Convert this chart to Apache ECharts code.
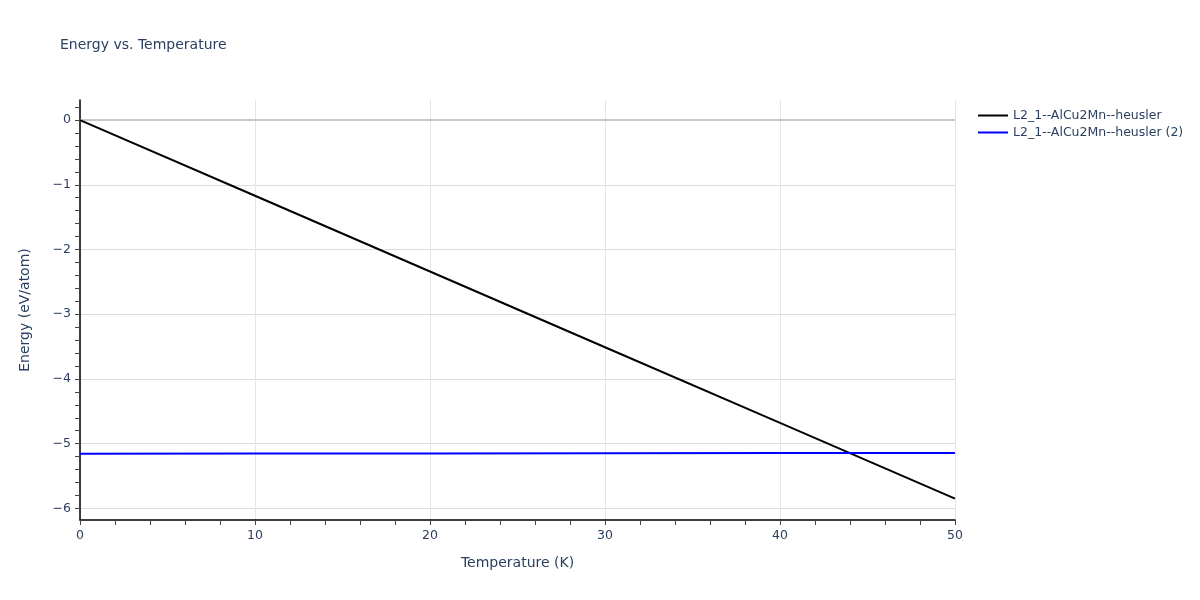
<!DOCTYPE html>
<html lang="en">

<head>
    <meta charset="UTF-8">
    <title>Energy vs. Temperature</title>
    <script src="https://cdn.jsdelivr.net/npm/echarts@6/dist/echarts.min.js"></script>
    <style>
        * {
            margin: 0;
            padding: 0;
        }

        #chart {
            width: 1200px;
            height: 600px;
        }
    </style>
</head>

<body>
    <div id="chart"></div>
    <script>
        // data
        const temperatures = [0, 10, 20, 30, 40, 50]
        const energyA = [0, -1.17, -2.34, -3.51, -4.68, -5.85]
        const energyB = [-5.155, -5.153, -5.151, -5.148, -5.145, -5.143]
        const seriesNames = ['L2_1--AlCu2Mn--heusler', 'L2_1--AlCu2Mn--heusler (2)']
        const yLabels = [-6, -5, -4, -3, -2, -1, 0]
        const yMinor = [-6, -5.8, -5.6, -5.4, -5.2, -5, -4.8, -4.6, -4.4, -4.2, -4, -3.8, -3.6, -3.4, -3.2,
            -3, -2.8, -2.6, -2.4, -2.2, -2, -1.8, -1.6, -1.4, -1.2, -1, -0.8, -0.6, -0.4, -0.2, 0, 0.2]

        const txt = '#2a3f5f'
        const font = '"DejaVu Sans", Verdana, sans-serif'
        const yMin = -6.18
        const yMax = 0.31

        const chart = echarts.init(document.querySelector('#chart'))

        const option = {
            animation: false,
            backgroundColor: '#fff',
            textStyle: { fontFamily: font },
            title: {
                text: 'Energy vs. Temperature',
                left: 55,
                top: 33,
                textStyle: { color: txt, fontSize: 14, fontWeight: 'normal', fontFamily: font }
            },
            legend: {
                orient: 'vertical',
                left: 973,
                top: 104,
                itemWidth: 30,
                itemHeight: 2,
                itemGap: 4,
                icon: 'rect',
                data: seriesNames,
                textStyle: { color: txt, fontSize: 12.5, fontFamily: font }
            },
            grid: {
                left: 80,
                right: 245,
                top: 100,
                bottom: 80
            },
            xAxis: {
                type: 'value',
                min: 0,
                max: 50,
                interval: 10,
                name: 'Temperature (K)',
                nameLocation: 'middle',
                nameGap: 36,
                nameTextStyle: { color: txt, fontSize: 14, fontFamily: font },
                axisLine: { show: true, onZero: false, lineStyle: { color: '#000', width: 1.5 } },
                axisTick: { show: true, length: 5, lineStyle: { color: '#444' } },
                minorTick: { show: true, splitNumber: 5, length: 5, lineStyle: { color: '#444' } },
                axisLabel: { color: txt, fontSize: 12.5, margin: 9 },
                splitLine: { show: true, lineStyle: { color: '#e5e5e5', width: 1 } }
            },
            yAxis: [{
                type: 'value',
                min: yMin,
                max: yMax,
                name: 'Energy (eV/atom)',
                nameLocation: 'middle',
                nameGap: 48,
                nameTextStyle: { color: txt, fontSize: 14, fontFamily: font },
                axisLine: { show: true, onZero: false, lineStyle: { color: '#000', width: 1.5 } },
                axisTick: { show: true, length: 5, customValues: yMinor, lineStyle: { color: '#444' } },
                axisLabel: {
                    color: txt, fontSize: 12.5, margin: 9, customValues: yLabels,
                    formatter: v => String(v).replace('-', '\u2212')
                },
                splitLine: { show: false }
            }, {
                // only for the horizontal grid lines
                type: 'value',
                min: yMin,
                max: yMax,
                position: 'left',
                axisLine: { show: false },
                axisTick: { show: false, customValues: yLabels },
                axisLabel: { show: false },
                splitLine: { show: true, lineStyle: { color: '#dcdcdc', width: 1 } }
            }],
            series: [{
                name: seriesNames[0],
                type: 'line',
                yAxisIndex: 0,
                data: temperatures.map((t, i) => [t, energyA[i]]),
                showSymbol: false,
                color: '#000',
                lineStyle: { width: 2, color: '#000' },
                z: 3,
                markLine: {
                    silent: true,
                    symbol: 'none',
                    label: { show: false },
                    lineStyle: { color: '#c8c8c8', width: 2, type: 'solid' },
                    data: [{ yAxis: 0 }],
                    z: 1
                }
            }, {
                name: seriesNames[1],
                type: 'line',
                yAxisIndex: 0,
                data: temperatures.map((t, i) => [t, energyB[i]]),
                showSymbol: false,
                color: '#0000ff',
                lineStyle: { width: 2, color: '#0000ff' },
                z: 4
            }]
        }

        chart.setOption(option)
    </script>
</body>

</html>
